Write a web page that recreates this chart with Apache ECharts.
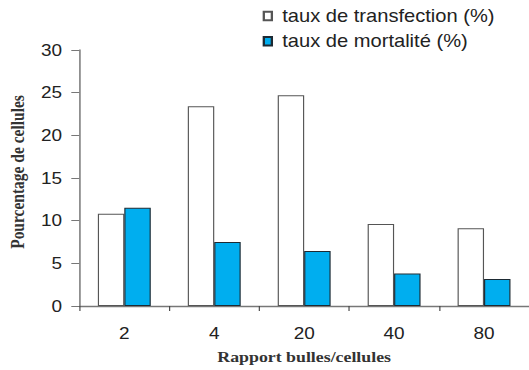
<!DOCTYPE html>
<html>
<head>
<meta charset="utf-8">
<script src="https://cdn.jsdelivr.net/npm/echarts@6/dist/echarts.min.js"></script>
<style>
html, body { margin: 0; padding: 0; background: #fff; overflow: hidden; }
#c { width: 460px; height: 370px; transform: scaleX(1.15); transform-origin: 0 0; }
</style>
</head>
<body>
<div id="c"></div>
<script>
const categories = ['2', '4', '20', '40', '80'];
const transfection = [10.8, 23.4, 24.7, 9.6, 9.1];
const mortalite = [11.5, 7.5, 6.45, 3.8, 3.15];
const seriesNames = ['taux de transfection (%)', 'taux de mortalité (%)'];
const xTitle = 'Rapport bulles/cellules';
const yTitle = 'Pourcentage de cellules';

const chart = echarts.init(document.getElementById('c'), null, { renderer: 'svg' });
const sans = '"Liberation Sans", Arial, Helvetica, sans-serif';
const serif = '"Liberation Serif", "Times New Roman", serif';

chart.setOption({
  animation: false,
  backgroundColor: '#fff',
  legend: {
    orient: 'vertical',
    left: 228.4,
    top: 6,
    padding: 0,
    itemWidth: 7,
    itemHeight: 8.5,
    itemGap: 5.2,
    icon: 'rect',
    textStyle: { fontFamily: sans, fontSize: 17.5, color: '#222', lineHeight: 20, padding: [0, 0, 0, 4] },
    data: seriesNames
  },
  grid: { left: 67.2, right: -3.3, top: 50, bottom: 61, containLabel: false },
  xAxis: {
    type: 'category',
    data: categories,
    name: xTitle,
    nameLocation: 'middle',
    nameGap: 43,
    nameTextStyle: { fontFamily: serif, fontWeight: 'bold', fontSize: 15.5, color: '#333' },
    axisLine: { show: true, lineStyle: { color: '#777', width: 1.3 } },
    axisTick: { show: true, length: 5, lineStyle: { color: '#444', width: 1 } },
    axisLabel: { fontFamily: sans, fontSize: 16.5, color: '#222', margin: 18.5 },
    splitLine: { show: false }
  },
  yAxis: {
    type: 'value',
    min: 0,
    max: 30,
    interval: 5,
    name: yTitle,
    nameLocation: 'middle',
    nameGap: 45,
    nameTextStyle: { fontFamily: serif, fontWeight: 'bold', fontSize: 15.5, color: '#333', padding: [0, 0, 0, 12] },
    axisLine: { show: true, lineStyle: { color: '#777', width: 1.3 } },
    axisTick: { show: true, length: 7, lineStyle: { color: '#777', width: 1 } },
    axisLabel: { fontFamily: sans, fontSize: 16.5, color: '#222', margin: 15 },
    splitLine: { show: false }
  },
  series: [
    {
      name: seriesNames[0],
      type: 'bar',
      data: transfection,
      barWidth: 23,
      barGap: '0%',
      itemStyle: { color: '#ffffff', borderColor: '#555', borderWidth: 1 }
    },
    {
      name: seriesNames[1],
      type: 'bar',
      data: mortalite,
      barWidth: 23,
      barGap: '0%',
      itemStyle: { color: '#00AEEF', borderColor: '#1d2a33', borderWidth: 1 }
    }
  ]
});
</script>
</body>
</html>
